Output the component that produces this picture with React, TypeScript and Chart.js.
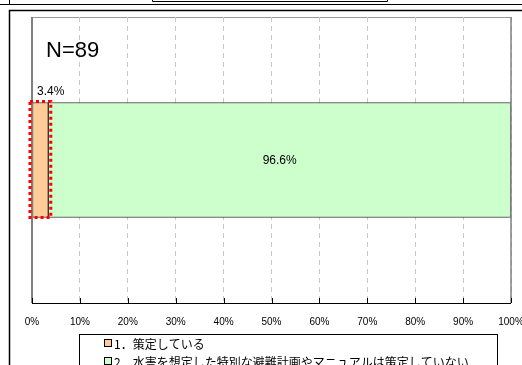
import React, { useEffect, useRef } from "react";
import { Chart, registerables } from "chart.js";

Chart.register(...registerables);

const categories = ["全体"];
const seriesLabels = ["1．策定している", "2．水害を想定した特別な避難計画やマニュアルは策定していない"];
const seriesValues = [[3.4], [96.6]];
const seriesColors = ["#FFCC99", "#CCFFCC"];
const tickValues = [0, 10, 20, 30, 40, 50, 60, 70, 80, 90, 100];
const sampleLabel = "N=89";

const decorPlugin = {
  id: "decor",
  beforeDraw(chart: any) {
    const ctx = chart.ctx;
    const { left, right, top } = chart.chartArea;
    ctx.save();
    ctx.fillStyle = "#fff";
    ctx.fillRect(0, 0, chart.width, chart.height);
    ctx.strokeStyle = "#000";
    ctx.lineWidth = 1;
    ctx.beginPath();
    ctx.moveTo(152.5, 0);
    ctx.lineTo(152.5, 1.5);
    ctx.lineTo(387.5, 1.5);
    ctx.lineTo(387.5, 0);
    ctx.moveTo(0, 4.5);
    ctx.lineTo(522, 4.5);
    ctx.moveTo(9.5, 0);
    ctx.lineTo(9.5, 4.5);
    ctx.stroke();
    ctx.lineWidth = 1.5;
    ctx.beginPath();
    ctx.moveTo(522, 10.5);
    ctx.lineTo(9.5, 10.5);
    ctx.lineTo(9.5, 365);
    ctx.stroke();
    ctx.strokeStyle = "#999";
    ctx.lineWidth = 1;
    ctx.beginPath();
    ctx.moveTo(left, top + 0.5);
    ctx.lineTo(right, top + 0.5);
    ctx.stroke();
    ctx.restore();
  },
  afterDatasetsDraw(chart: any) {
    const ctx = chart.ctx;
    const { left, right, top, bottom } = chart.chartArea;
    const xs = chart.scales.x;
    ctx.save();
    ctx.strokeStyle = "#808080";
    ctx.lineWidth = 2;
    ctx.beginPath();
    ctx.moveTo(left, top);
    ctx.lineTo(left, bottom);
    ctx.stroke();
    ctx.lineWidth = 1.5;
    ctx.beginPath();
    ctx.moveTo(right, top);
    ctx.lineTo(right, bottom);
    ctx.stroke();
    ctx.strokeStyle = "#000";
    ctx.lineWidth = 1;
    ctx.beginPath();
    ctx.moveTo(left, bottom + 0.5);
    ctx.lineTo(right, bottom + 0.5);
    tickValues.forEach((v) => {
      const x = Math.round(xs.getPixelForValue(v)) + 0.5;
      ctx.moveTo(x, bottom);
      ctx.lineTo(x, bottom - 5);
    });
    ctx.stroke();

    const m0 = chart.getDatasetMeta(0).data[0];
    const m1 = chart.getDatasetMeta(1).data[0];
    ctx.fillStyle = "#000";
    ctx.font = "12px 'Liberation Sans', Arial, sans-serif";
    ctx.textBaseline = "middle";
    ctx.textAlign = "left";
    ctx.fillText(seriesValues[0][0].toFixed(1) + "%", left + 5, m0.y - m0.height / 2 - 11);
    ctx.textAlign = "center";
    ctx.fillText(seriesValues[1][0].toFixed(1) + "%", (m1.base + m1.x) / 2, m1.y + 1);

    ctx.strokeStyle = "#FF0000";
    ctx.lineWidth = 3;
    ctx.setLineDash([3, 3]);
    const x0 = m0.base - 2.5;
    const x1 = m0.x + 2.5;
    const y0 = m0.y - m0.height / 2 - 1;
    const y1 = m0.y + m0.height / 2;
    ctx.strokeRect(x0, y0, x1 - x0, y1 - y0);
    ctx.setLineDash([]);

    ctx.fillStyle = "#000";
    ctx.font = "22px 'Liberation Sans', Arial, sans-serif";
    ctx.textAlign = "left";
    ctx.textBaseline = "middle";
    ctx.fillText(sampleLabel, 46, 51);

    ctx.strokeStyle = "#000";
    ctx.lineWidth = 1;
    ctx.strokeRect(79.5, 334.5, 418, 40);
    ctx.font = "12px 'Noto Sans CJK JP', sans-serif";
    chart.data.datasets.forEach((ds: any, i: number) => {
      const yy = 343 + i * 18;
      ctx.fillStyle = ds.backgroundColor;
      ctx.fillRect(104.5, yy - 3.5, 7, 7);
      ctx.strokeStyle = "#000";
      ctx.strokeRect(104.5, yy - 3.5, 7, 7);
      ctx.fillStyle = "#000";
      ctx.textAlign = "left";
      ctx.fillText(ds.label, 114, yy + 1);
    });
    ctx.restore();
  },
};

export default function App() {
  const ref = useRef<HTMLCanvasElement | null>(null);
  useEffect(() => {
    if (!ref.current) return;
    const chart = new Chart(ref.current, {
      type: "bar",
      data: {
        labels: categories,
        datasets: seriesLabels.map((label, i) => ({
          label,
          data: seriesValues[i],
          backgroundColor: seriesColors[i],
          borderColor: "#333",
          borderWidth: 1,
          borderSkipped: false,
          barThickness: 115,
        })),
      },
      options: {
        indexAxis: "y",
        responsive: false,
        animation: false,
        layout: { padding: { left: 32, right: 11, top: 17, bottom: 0 } },
        plugins: { legend: { display: false }, tooltip: { enabled: false } },
        scales: {
          y: { stacked: true, display: false },
          x: {
            stacked: true,
            min: 0,
            max: 100,
            afterFit: (scale: any) => {
              scale.height = 62;
              scale.paddingLeft = 0;
              scale.paddingRight = 0;
            },
            afterBuildTicks: (scale: any) => {
              scale.ticks = tickValues.map((v) => ({ value: v }));
            },
            border: { display: false, dash: [5, 4] },
            grid: {
              color: "#c8c8c8",
              drawTicks: false,
            },
            ticks: {
              padding: 13,
              color: "#000",
              font: { size: 10, family: "'Liberation Sans', Arial, sans-serif" },
              callback: (v: any) => v + "%",
            },
          },
        },
      } as any,
      plugins: [decorPlugin],
    });
    return () => chart.destroy();
  }, []);
  return (
    <div style={{ position: "fixed", left: 0, top: 0, width: 522, height: 365 }}>
      <canvas ref={ref} width={522} height={365} style={{ width: 522, height: 365 }} />
    </div>
  );
}
